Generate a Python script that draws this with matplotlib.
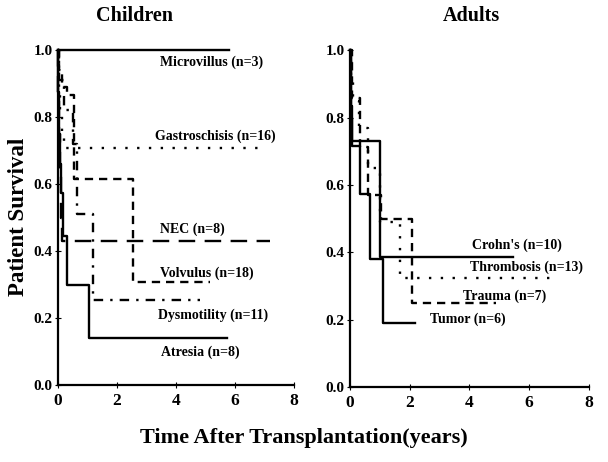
import numpy as np
import matplotlib
matplotlib.use('Agg')
import matplotlib.pyplot as plt

plt.rcParams['font.family'] = 'Liberation Serif'
plt.rcParams['font.weight'] = 'bold'

# Children survival curves (time in years, survival)
micro_t = [0, 5.8]
micro_s = [1.0, 1.0]
gastro_t = [0, 0.02, 0.05, 0.08, 0.12, 0.2, 6.85]
gastro_s = [1.0, 0.94, 0.875, 0.81, 0.75, 0.707, 0.707]
nec_t = [0, 0.01, 0.03, 0.06, 0.09, 0.14, 7.2]
nec_s = [1.0, 0.875, 0.75, 0.625, 0.5, 0.43, 0.43]
volv_t = [0, 0.03, 0.15, 0.3, 0.55, 2.54, 5.15]
volv_s = [1.0, 0.94, 0.89, 0.866, 0.615, 0.307, 0.307]
dysm_t = [0, 0.02, 0.2, 0.5, 0.63, 1.17, 4.8]
dysm_s = [1.0, 0.91, 0.82, 0.72, 0.51, 0.254, 0.254]
atr_t = [0, 0.01, 0.03, 0.06, 0.1, 0.18, 0.29, 1.06, 5.72]
atr_s = [1.0, 0.875, 0.75, 0.66, 0.573, 0.445, 0.298, 0.14, 0.14]

# Adults survival curves
crohn_t = [0, 0.02, 0.04, 0.06, 1.0, 5.45]
crohn_s = [1.0, 0.9, 0.8, 0.73, 0.387, 0.387]
thromb_t = [0, 0.02, 0.1, 0.3, 0.6, 1.02, 1.67, 6.95]
thromb_s = [1.0, 0.92, 0.85, 0.77, 0.65, 0.49, 0.324, 0.324]
trauma_t = [0, 0.05, 0.33, 0.6, 1.05, 2.06, 4.9]
trauma_s = [1.0, 0.857, 0.714, 0.571, 0.5, 0.25, 0.25]
tumor_t = [0, 0.03, 0.06, 0.33, 0.67, 1.09, 2.17]
tumor_s = [1.0, 0.833, 0.716, 0.573, 0.38, 0.19, 0.19]

dotted = (0, (1, 4))
short_dash = (0, (3.5, 2.5))
long_dash = (0, (7, 4))
dash_dot = (0, (4, 3, 1, 3))

children = [
    (micro_t, micro_s, '-', 'Microvillus (n=3)', 3.46, 0.964),
    (gastro_t, gastro_s, dotted, 'Gastroschisis (n=16)', 3.29, 0.743),
    (nec_t, nec_s, long_dash, 'NEC (n=8)', 3.46, 0.466),
    (volv_t, volv_s, short_dash, 'Volvulus (n=18)', 3.46, 0.334),
    (dysm_t, dysm_s, dash_dot, 'Dysmotility (n=11)', 3.39, 0.209),
    (atr_t, atr_s, '-', 'Atresia (n=8)', 3.49, 0.099),
]
adults = [
    (crohn_t, crohn_s, '-', "Crohn's (n=10)", 4.08, 0.422),
    (thromb_t, thromb_s, dotted, 'Thrombosis (n=13)', 4.01, 0.357),
    (trauma_t, trauma_s, short_dash, 'Trauma (n=7)', 3.78, 0.27),
    (tumor_t, tumor_s, '-', 'Tumor (n=6)', 2.68, 0.2),
]

fig = plt.figure(figsize=(6.08, 4.62), dpi=100)
ax1 = fig.add_axes([0.0954, 0.1667, 0.388, 0.725])
ax2 = fig.add_axes([0.5757, 0.1623, 0.393, 0.729])

for ax, curves in [(ax1, children), (ax2, adults)]:
    for t, s, ls, label, lx, ly in curves:
        ax.plot(t, s, drawstyle='steps-post', color='black', linestyle=ls,
                linewidth=1.7, clip_on=False)
        ax.text(lx, ly, label, fontsize=10, fontweight='bold', va='center', ha='left')
    ax.set_xlim(0, 8)
    ax.set_ylim(0, 1.0)
    ax.set_xticks([0, 2, 4, 6, 8])
    ax.set_yticks([0, 0.2, 0.4, 0.6, 0.8, 1.0])
    ax.set_yticklabels(['0.0', '0.2', '0.4', '0.6', '0.8', '1.0'])
    ax.spines['top'].set_visible(False)
    ax.spines['right'].set_visible(False)
    ax.spines['left'].set_linewidth(1.6)
    ax.spines['bottom'].set_linewidth(1.6)
    ax.tick_params(direction='inout', length=4, width=0.8, pad=2)
    ax.tick_params(axis='x', labelsize=12.5, pad=4)
    ax.tick_params(axis='y', labelsize=11)
    for lab in ax.get_xticklabels() + ax.get_yticklabels():
        lab.set_fontweight('bold')

fig.text(0.222, 0.965, 'Children', fontsize=14.5, fontweight='bold', ha='center', va='center')
fig.text(0.776, 0.965, 'Adults', fontsize=14.5, fontweight='bold', ha='center', va='center')
fig.text(0.03, 0.53, 'Patient Survival', fontsize=16.5, fontweight='bold', rotation=90,
         ha='center', va='center')
fig.text(0.5, 0.052, 'Time After Transplantation(years)', fontsize=16, fontweight='bold',
         ha='center', va='center')

fig.savefig('out.png', dpi=100)
